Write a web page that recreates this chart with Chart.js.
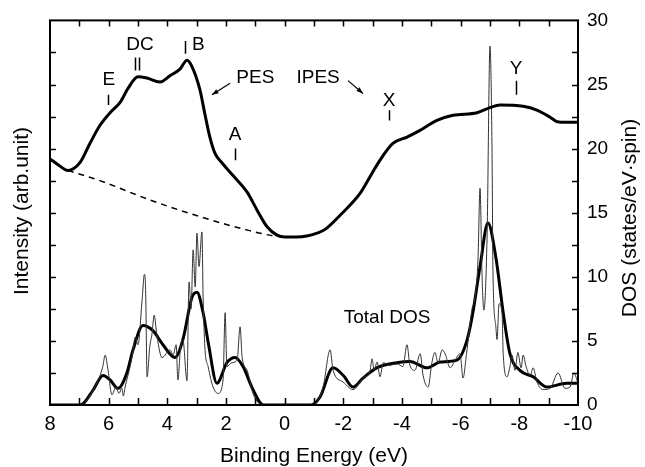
<!DOCTYPE html>
<html>
<head>
<meta charset="utf-8">
<script src="https://cdn.jsdelivr.net/npm/chart.js@4"></script>
<style>
  body { margin: 0; background: #fff; }
</style>
</head>
<body>
<canvas id="myGraph" width="645" height="467"></canvas>
<script>
// PES / IPES spectrum (thick upper curve) in DOS units
const pesEnergy = [8.0, 7.7, 7.39, 6.98, 6.64, 6.3, 5.95, 5.61, 5.34, 5.0, 4.7, 4.25, 3.9, 3.57, 3.33, 3.16,
  2.89, 2.72, 2.55, 2.37, 2.14, 1.76, 1.28, 0.94, 0.6, 0.26, 0.0, -0.4, -0.8, -1.1, -1.38, -1.89, -2.57,
  -2.91, -3.25, -3.69, -4.17, -4.6, -5.19, -5.74, -6.56, -7.0, -7.34, -8.13, -8.6, -9.05, -9.29, -9.6, -10];
const pesIntensity = [19.2, 18.7, 18.3, 18.9, 20.4, 21.8, 22.8, 23.6, 24.7, 25.6, 25.5, 25.2, 25.7, 26.2, 26.9, 26.4,
  24.6, 22.7, 20.9, 19.6, 18.9, 17.9, 16.6, 15.2, 13.9, 13.25, 13.1, 13.1, 13.2, 13.4, 13.7, 14.8, 16.5,
  17.8, 19.1, 20.4, 20.9, 21.4, 22.2, 22.6, 22.8, 23.2, 23.4, 23.3, 23.0, 22.45, 22.1, 22.05, 22.05];

// dashed background under the PES part
const bgEnergy = [7.39, 6.3, 4.6, 2.9, 1.2, 0.4, 0.0];
const bgIntensity = [18.3, 17.5, 16.0, 14.7, 13.6, 13.2, 13.1];

// broadened total DOS (thick lower curve)
const dosEnergy = [8, 7.0, 6.87, 6.53, 6.19, 5.95, 5.68, 5.38, 5.17, 4.83, 4.49, 4.15, 3.74, 3.47, 3.16, 2.99,
  2.78, 2.6, 2.31, 1.97, 1.69, 1.42, 1.08, 0.73, 0.4, -0.9, -1.2, -1.65, -2.0, -2.33, -2.67, -3.14, -3.82,
  -4.27, -4.85, -5.3, -5.87, -6.21, -6.4, -6.66, -6.93, -7.2, -7.45, -7.68, -8.02, -8.47, -8.94, -9.62, -10];
const dosSmooth = [0, 0, 0.1, 1.17, 2.3, 1.95, 1.3, 2.5, 4.3, 6.2, 5.8, 4.7, 3.7, 5.1, 8.4, 8.8,
  7.2, 4.8, 1.7, 3.3, 3.7, 3.0, 1.2, 0, 0, 0, 0.6, 2.9, 2.3, 1.4, 2.1, 2.9, 3.3,
  3.4, 2.9, 3.35, 3.5, 5.0, 7.0, 10.8, 14.2, 11.5, 7.2, 4.0, 2.7, 2.2, 1.4, 1.7, 1.7];

// raw total DOS (thin spiky curve)
const rawEnergy = [8, 6.95, 6.81, 6.47, 6.2, 6.12, 6.02, 5.89, 5.75, 5.65, 5.55, 5.5, 5.44, 5.27, 5.17, 5.1,
  5.0, 4.86, 4.78, 4.74, 4.69, 4.6, 4.52, 4.45, 4.35, 4.18, 3.91, 3.8, 3.7, 3.64, 3.55, 3.47, 3.33, 3.26,
  3.19, 3.12, 3.05, 2.99, 2.92, 2.82, 2.78, 2.72, 2.61, 2.44, 2.27, 2.1, 2.03, 1.97, 1.8, 1.62, 1.52, 1.45,
  1.28, 1.08, 0.91, 0.75, -0.97, -1.31, -1.55, -1.65, -1.99, -2.33, -2.67, -2.91, -2.98, -3.05, -3.15,
  -3.25, -3.36, -3.59, -3.83, -4.03, -4.17, -4.27, -4.44, -4.62, -4.72, -4.89, -5.02, -5.12, -5.23, -5.37,
  -5.47, -5.64, -5.81, -5.98, -6.08, -6.2, -6.38, -6.49, -6.59, -6.66, -6.73, -6.79, -6.9, -7.0, -7.07,
  -7.1, -7.2, -7.24, -7.31, -7.41, -7.45, -7.58, -7.68, -7.75, -7.85, -7.95, -8.06, -8.13, -8.23, -8.37,
  -8.47, -8.6, -8.81, -9.05, -9.32, -9.56, -9.73, -9.86, -10];
const dosRaw = [0, 0, 0.2, 1.4, 3.0, 3.9, 2.7, 0.8, 1.4, 0.9, 1.3, 0.7, 1.4, 3.0, 4.2, 5.3,
  4.7, 8.2, 10.2, 9.0, 2.2, 4.5, 5.6, 7.0, 5.3, 3.7, 4.3, 3.9, 4.7, 1.95, 4.5, 5.1, 1.9, 9.6,
  7.5, 12.1, 9.2, 13.4, 10.8, 13.5, 8.4, 4.5, 3.0, 1.4, 0.9, 1.95, 7.2, 3.0, 3.3, 3.5, 6.1, 3.7,
  2.7, 0.9, 0.2, 0, 0, 1.4, 4.3, 2.7, 1.8, 1.2, 2.1, 2.7, 3.6, 2.7, 3.35,
  2.2, 3.3, 3.1, 3.2, 3.0, 4.7, 3.1, 2.7, 4.0, 2.3, 1.4, 3.3, 4.1, 3.3, 4.3,
  4.0, 2.9, 3.5, 4.0, 2.1, 4.0, 7.4, 8.4, 11.3, 16.9, 10.0, 7.4, 13.1, 28.0, 19.6,
  10.5, 6.1, 5.1, 7.9, 7.2, 4.0, 2.2, 3.0, 3.9, 2.7, 4.1, 2.9, 3.9, 3.0, 2.3,
  2.9, 1.8, 1.2, 1.3, 2.5, 1.3, 1.4, 2.5, 1.7];

// axis ticks
const energyTicks = [8, 6, 4, 2, 0, -2, -4, -6, -8, -10];
const dosTicks = [0, 5, 10, 15, 20, 25, 30];

// peak labels: text, energy, height (DOS units)
const labelTexts = ['E', 'DC', 'B', 'PES', 'A', 'IPES', 'X', 'Y', 'Total DOS'];
const labelEnergy = [5.99, 4.93, 2.94, 1.0, 1.69, -1.14, -3.56, -7.89, -3.49];
const labelHeight = [25.4, 28.1, 28.1, 25.5, 21.1, 25.5, 23.7, 26.2, 6.8];

// little vertical markers under the peak letters: energy, from, to
const markEnergy = [6.01, 5.1, 4.97, 3.40, 1.69, -3.56, -7.89];
const markFrom = [23.4, 26.1, 26.1, 27.4, 19.1, 22.2, 24.2];
const markTo = [24.2, 27.1, 27.1, 28.4, 20.0, 23.0, 25.3];

const FONT = '"Liberation Sans", Arial, sans-serif';

function toPoints(xs, ys) {
    return xs.map((x, i) => ({x: x, y: ys[i]}));
}

const frameAndText = {
    id: 'frameAndText',
    afterDraw(chart) {
        const ctx = chart.ctx;
        const area = chart.chartArea;
        const xs = chart.scales.x;
        const ys = chart.scales.y;
        ctx.save();
        ctx.strokeStyle = '#000';
        ctx.fillStyle = '#000';

        // frame
        ctx.lineWidth = 2;
        ctx.strokeRect(area.left, area.top, area.right - area.left, area.bottom - area.top);

        // inward ticks
        ctx.lineWidth = 1.5;
        ctx.beginPath();
        for (let e = -9; e <= 7; e++) {
            let px = Math.round(xs.getPixelForValue(e)) + 0.5;
            ctx.moveTo(px, area.bottom);
            ctx.lineTo(px, area.bottom - 7);
            ctx.moveTo(px, area.top);
            ctx.lineTo(px, area.top + 6);
        }
        for (let v = 2.5; v < 30; v += 2.5) {
            let py = Math.round(ys.getPixelForValue(v)) + 0.5;
            ctx.moveTo(area.left, py);
            ctx.lineTo(area.left + 6, py);
            ctx.moveTo(area.right, py);
            ctx.lineTo(area.right - 6, py);
        }
        ctx.stroke();

        // axis titles
        ctx.font = '21px ' + FONT;
        ctx.textAlign = 'center';
        ctx.textBaseline = 'alphabetic';
        ctx.fillText('Binding Energy (eV)', (area.left + area.right) / 2, 462);
        ctx.save();
        ctx.translate(28, 211);
        ctx.rotate(-Math.PI / 2);
        ctx.fillText('Intensity (arb.unit)', 0, 0);
        ctx.restore();
        ctx.save();
        ctx.translate(636, 218);
        ctx.rotate(-Math.PI / 2);
        ctx.fillText('DOS (states/eV\u00b7spin)', 0, 0);
        ctx.restore();

        // peak labels
        ctx.font = '19px ' + FONT;
        ctx.textBaseline = 'middle';
        labelTexts.forEach((t, i) => {
            ctx.fillText(t, xs.getPixelForValue(labelEnergy[i]), ys.getPixelForValue(labelHeight[i]));
        });

        ctx.lineWidth = 1.5;
        ctx.beginPath();
        markEnergy.forEach((e, i) => {
            let px = Math.round(xs.getPixelForValue(e)) + 0.5;
            ctx.moveTo(px, ys.getPixelForValue(markFrom[i]));
            ctx.lineTo(px, ys.getPixelForValue(markTo[i]));
        });
        ctx.stroke();

        // arrows next to PES and IPES
        drawArrow(ctx, xs, ys, 1.86, 25.1, 2.48, 24.2);
        drawArrow(ctx, xs, ys, -2.16, 25.3, -2.67, 24.3);
        ctx.restore();
    }
};

function drawArrow(ctx, xs, ys, e1, v1, e2, v2) {
    let x1 = xs.getPixelForValue(e1), y1 = ys.getPixelForValue(v1);
    let x2 = xs.getPixelForValue(e2), y2 = ys.getPixelForValue(v2);
    let a = Math.atan2(y2 - y1, x2 - x1);
    ctx.lineWidth = 1.2;
    ctx.beginPath();
    ctx.moveTo(x1, y1);
    ctx.lineTo(x2, y2);
    ctx.stroke();
    ctx.beginPath();
    ctx.moveTo(x2, y2);
    ctx.lineTo(x2 - 7 * Math.cos(a - 0.35), y2 - 7 * Math.sin(a - 0.35));
    ctx.lineTo(x2 - 7 * Math.cos(a + 0.35), y2 - 7 * Math.sin(a + 0.35));
    ctx.closePath();
    ctx.fill();
}

const ctx = document.getElementById('myGraph').getContext('2d');
let lineChart = new Chart(ctx, {
    type: 'line',
    data: {
        datasets: [
            {
                label: 'PES / IPES',
                data: toPoints(pesEnergy, pesIntensity),
                borderColor: '#000',
                borderWidth: 3,
                pointRadius: 0,
                cubicInterpolationMode: 'monotone',
                fill: false,
            },
            {
                label: 'Background',
                data: toPoints(bgEnergy, bgIntensity),
                borderColor: '#000',
                borderWidth: 1.5,
                borderDash: [6, 5],
                pointRadius: 0,
                cubicInterpolationMode: 'monotone',
                fill: false,
            },
            {
                label: 'Total DOS (raw)',
                data: toPoints(rawEnergy, dosRaw),
                borderColor: '#333',
                borderWidth: 1,
                pointRadius: 0,
                cubicInterpolationMode: 'monotone',
                fill: false,
            },
            {
                label: 'Total DOS',
                data: toPoints(dosEnergy, dosSmooth),
                borderColor: '#000',
                borderWidth: 3,
                pointRadius: 0,
                cubicInterpolationMode: 'monotone',
                fill: false,
            }
        ]
    },
    options: {
        responsive: false,
        animation: false,
        events: [],
        layout: {padding: {top: 20, left: 0, right: 0, bottom: 0}},
        plugins: {
            legend: {display: false},
            tooltip: {enabled: false}
        },
        scales: {
            x: {
                type: 'linear',
                position: 'bottom',
                min: -10,
                max: 8,
                reverse: true,
                grid: {display: false, drawTicks: false},
                border: {display: false},
                afterBuildTicks: s => { s.ticks = energyTicks.map(v => ({value: v})); },
                ticks: {color: '#000', font: {family: FONT, size: 20}, padding: 7, maxRotation: 0,
                        callback: v => String(v)},
                afterFit: s => { s.height = 62; }
            },
            y: {
                type: 'linear',
                position: 'left',
                min: 0,
                max: 30,
                grid: {display: false, drawTicks: false},
                border: {display: false},
                ticks: {display: false},
                afterFit: s => { s.width = 50; }
            },
            y2: {
                type: 'linear',
                position: 'right',
                min: 0,
                max: 30,
                grid: {display: false, drawTicks: false},
                border: {display: false},
                afterBuildTicks: s => { s.ticks = dosTicks.map(v => ({value: v})); },
                ticks: {color: '#000', font: {family: FONT, size: 19}, padding: 9,
                        callback: v => String(v)},
                afterFit: s => { s.width = 67; }
            }
        }
    },
    plugins: [frameAndText]
});
</script>
</body>
</html>
